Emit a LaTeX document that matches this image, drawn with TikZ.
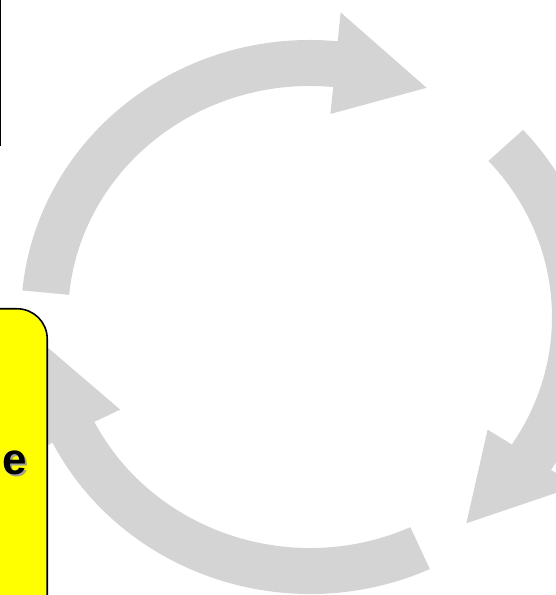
\documentclass[tikz,border=0pt]{standalone}
\usepackage{fontspec}
\setsansfont{Liberation Sans}
\definecolor{ringgray}{HTML}{D4D4D4}
\definecolor{noteyellow}{HTML}{FFFF00}
\definecolor{shadowgray}{HTML}{A0A0A0}
\tikzset{
  ringarrow/.style={fill=ringgray, draw=none},
  notebox/.style={draw=black, line width=1.6pt, fill=noteyellow, rounded corners=30pt},
  sidebox/.style={draw=black, line width=2pt, fill=white},
  notefont/.style={inner sep=0pt, font=\sffamily\bfseries\fontsize{44}{50}\selectfont},
  every node/.append style={font=\sffamily}
}
% tail angle, head base angle, tip angle
\newcommand{\cyclearrow}[3]{%
  \fill[ringarrow] (#1:289pt and 277pt)
    arc[start angle=#1, end angle=#2, x radius=289pt, y radius=277pt]
    -- (#2:320pt and 306pt) -- (#3:266pt and 255pt) -- (#2:213pt and 204pt)
    -- (#2:242pt and 231pt)
    arc[start angle=#2, end angle=#1, x radius=242pt, y radius=231pt] -- cycle;}

\begin{document}
\begin{tikzpicture}[x=1pt, y=1pt]
\useasboundingbox (0,0) rectangle (556,595);
\clip (0,0) rectangle (556,595);
\begin{scope}[shift={(310,278)}]
\cyclearrow{174.5}{84.5}{64}
\cyclearrow{42.5}{-33.5}{-54}
\cyclearrow{-65.5}{-153}{-173.5}
\end{scope}
\node[sidebox, minimum width=150pt, minimum height=200pt, anchor=south east] (topbox) at (1,449) {};
\node[notebox, minimum width=200pt, minimum height=360pt, anchor=north east] (note) at (48,287) {};
\node[notefont, text=shadowgray] (noteshadow) at (17,130.5) {e};
\node[notefont] (notetext) at (15,132.5) {e};
\end{tikzpicture}
\end{document}
